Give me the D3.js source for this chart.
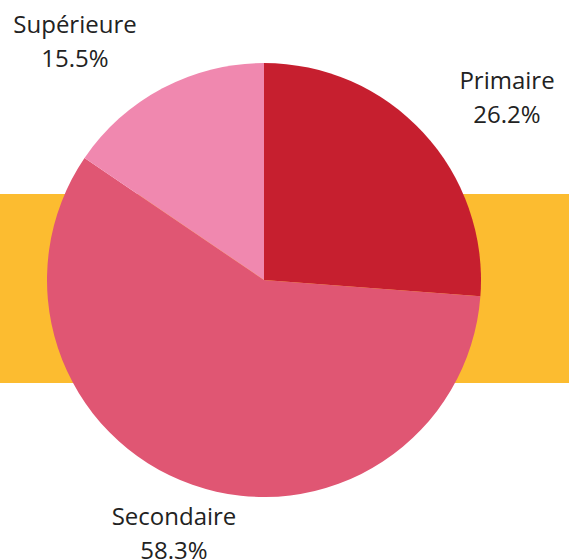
<!DOCTYPE html>
<html lang="fr">
<head>
<meta charset="utf-8">
<title>Répartition par niveau</title>
<script src="https://cdnjs.cloudflare.com/ajax/libs/d3/7.8.5/d3.min.js"></script>
<style>
  body { margin: 0; background: #fff; }
  text { font-family: "Open Sans", sans-serif; font-size: 24px; fill: #222; }
</style>
</head>
<body>
<div id="chart"></div>
<script>
// data
var categories = ["Primaire", "Secondaire", "Supérieure"];
var shares = [26.2, 58.3, 15.5];
var colors = ["#c61f2f", "#e05673", "#f088af"];

var width = 569, height = 560;
var cx = 264, cy = 280, radius = 217;

// baseline of the first line of each label, centred on x
var labelPos = {
  "Primaire":   [507, 89],
  "Secondaire": [174, 525],
  "Supérieure": [75, 33]
};

var svg = d3.select("#chart").append("svg")
  .attr("width", width)
  .attr("height", height);

// yellow band behind the pie
svg.append("rect")
  .attr("x", 0)
  .attr("y", 194)
  .attr("width", width)
  .attr("height", 189)
  .attr("fill", "#fcbc30");

var pie = d3.pie().sort(null).value(function(d) { return d; });
var arc = d3.arc().innerRadius(0).outerRadius(radius);

var g = svg.append("g").attr("transform", "translate(" + cx + "," + cy + ")");
g.selectAll("path")
  .data(pie(shares))
  .enter().append("path")
  .attr("d", arc)
  .attr("fill", function(d, i) { return colors[i]; });

var fmt = d3.format(".1f");
var labels = svg.selectAll("g.label")
  .data(categories)
  .enter().append("g")
  .attr("class", "label")
  .attr("transform", function(d) { return "translate(" + labelPos[d][0] + "," + labelPos[d][1] + ")"; });
labels.append("text")
  .attr("text-anchor", "middle")
  .text(function(d) { return d; });
labels.append("text")
  .attr("text-anchor", "middle")
  .attr("y", 34)
  .text(function(d, i) { return fmt(shares[i]) + "%"; });
</script>
</body>
</html>
